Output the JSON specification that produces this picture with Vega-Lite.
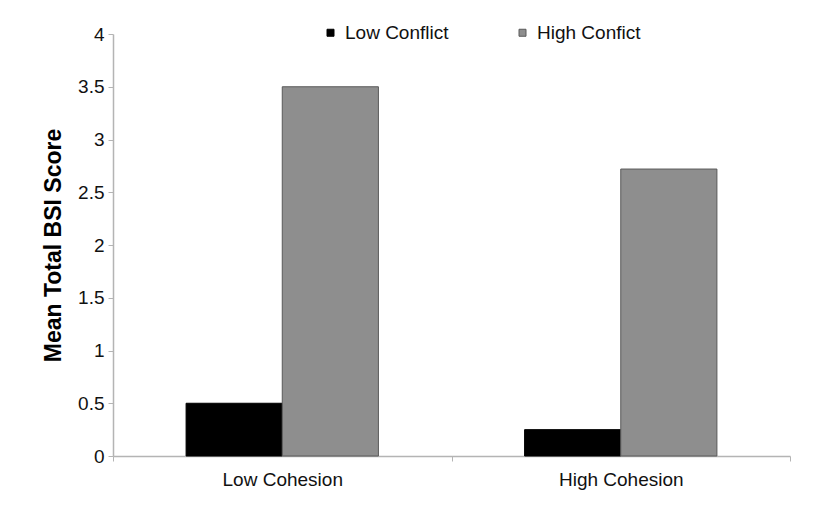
{
  "$schema": "https://vega.github.io/schema/vega-lite/v6.json",
  "width": 677,
  "height": 422,
  "autosize": {"type": "none"},
  "padding": {"left": 113, "top": 34, "right": 34, "bottom": 52},
  "background": "white",
  "config": {
    "view": {"stroke": null},
    "font": "Liberation Sans",
    "axis": {"grid": false, "domainColor": "#b4b4b4", "tickColor": "#b4b4b4", "labelColor": "#111111", "labelFont": "Liberation Sans", "titleFont": "Liberation Sans"}
  },
  "data": {
    "values": [
      {"cohesion": "Low Cohesion", "conflict": "Low Conflict", "score": 0.5},
      {"cohesion": "Low Cohesion", "conflict": "High Confict", "score": 3.5},
      {"cohesion": "High Cohesion", "conflict": "Low Conflict", "score": 0.25},
      {"cohesion": "High Cohesion", "conflict": "High Confict", "score": 2.72}
    ]
  },
  "mark": {"type": "bar", "strokeWidth": 1},
  "encoding": {
    "x": {
      "field": "cohesion",
      "type": "nominal",
      "sort": ["Low Cohesion", "High Cohesion"],
      "scale": {"paddingInner": 0, "paddingOuter": 0},
      "axis": {
        "title": null,
        "labelAngle": 0,
        "labelFontSize": 19,
        "labelPadding": 9,
        "tickBand": "extent",
        "tickSize": 5,
        "domainWidth": 1.5
      }
    },
    "xOffset": {
      "field": "conflict",
      "type": "nominal",
      "sort": ["Low Conflict", "High Confict"],
      "scale": {"paddingInner": 0, "paddingOuter": 0.76}
    },
    "y": {
      "field": "score",
      "type": "quantitative",
      "scale": {"domain": [0, 4], "nice": false},
      "axis": {
        "title": "Mean Total BSI Score",
        "titleFontSize": 23,
        "titleFontWeight": "bold",
        "titleColor": "#000000",
        "titlePadding": 12,
        "values": [0, 0.5, 1, 1.5, 2, 2.5, 3, 3.5, 4],
        "format": "~g",
        "labelFontSize": 19,
        "labelPadding": 4,
        "tickSize": 5,
        "domainWidth": 1.5
      }
    },
    "color": {
      "field": "conflict",
      "type": "nominal",
      "sort": ["Low Conflict", "High Confict"],
      "scale": {"domain": ["Low Conflict", "High Confict"], "range": ["#000000", "#8e8e8e"]},
      "legend": {
        "title": null,
        "orient": "none",
        "legendX": 208,
        "legendY": -11,
        "direction": "horizontal",
        "symbolType": "square",
        "symbolSize": 49,
        "symbolStrokeWidth": 1,
        "labelFontSize": 19,
        "labelColor": "#111111",
        "labelOffset": 5,
        "columnPadding": 64
      }
    },
    "stroke": {
      "field": "conflict",
      "type": "nominal",
      "scale": {"domain": ["Low Conflict", "High Confict"], "range": ["#000000", "#5a5a5a"]},
      "legend": null
    }
  }
}
